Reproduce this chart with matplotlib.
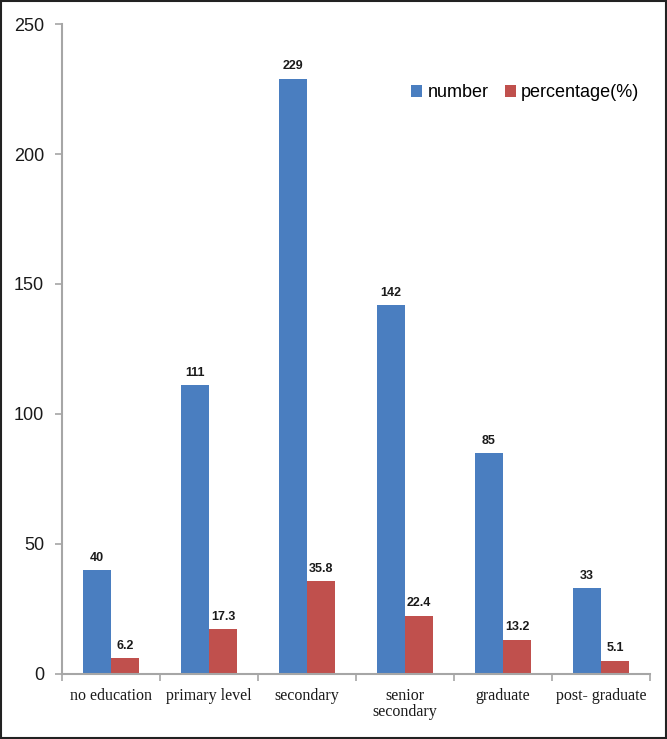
"""Education level bar chart."""

import matplotlib.pyplot as plt
import numpy as np
from matplotlib.patches import Rectangle

categories = ["no education", "primary level", "secondary", "senior\nsecondary",
              "graduate", "post- graduate"]
number = [40, 111, 229, 142, 85, 33]
percentage = [6.2, 17.3, 35.8, 22.4, 13.2, 5.1]
number_labels = ["40", "111", "229", "142", "85", "33"]
percentage_labels = ["6.2", "17.3", "35.8", "22.4", "13.2", "5.1"]

BLUE = "#4A7EC0"
RED = "#C0504D"
SPINE = "#A6A6A6"

fig = plt.figure(figsize=(6.67, 7.39), dpi=100)
ax = fig.add_axes([0.093, 0.088, 0.8815, 0.8795])

x = np.arange(len(categories))
w = 0.285
b1 = ax.bar(x - w / 2, number, w, color=BLUE, label="number")
b2 = ax.bar(x + w / 2, percentage, w, color=RED, label="percentage(%)")

for bars, labels in ((b1, number_labels), (b2, percentage_labels)):
    for rect, lab in zip(bars, labels):
        ax.annotate(lab, (rect.get_x() + rect.get_width() / 2, rect.get_height()),
                    xytext=(0, 4.5), textcoords="offset points",
                    ha="center", va="bottom", fontsize=9, fontweight="bold",
                    family="Liberation Sans", color="#1a1a1a")

ax.set_xlim(-0.5, len(categories) - 0.5)
ax.set_ylim(0, 250)
ax.set_yticks(np.arange(0, 251, 50))

# tick marks at category boundaries, labels at centres
ax.set_xticks(np.arange(-0.5, len(categories)), labels=[""] * (len(categories) + 1))
ax.set_xticks(x, labels=categories, minor=True)
ax.tick_params(axis="x", which="major", length=5, width=1.2, color=SPINE, direction="out")
ax.tick_params(axis="x", which="minor", length=0, pad=10, labelsize=11.5)
for t in ax.get_xticklabels(minor=True):
    t.set_family("Liberation Serif")
    t.set_linespacing(1.0)
    t.set_color("#1a1a1a")
ax.tick_params(axis="y", length=5, width=1.2, color=SPINE, pad=8, labelsize=13)
for t in ax.get_yticklabels():
    t.set_family("Liberation Sans")
    t.set_color("#1a1a1a")

for side in ("top", "right"):
    ax.spines[side].set_visible(False)
for side in ("left", "bottom"):
    ax.spines[side].set_color(SPINE)
    ax.spines[side].set_linewidth(1.5)

leg = ax.legend(loc="center right", bbox_to_anchor=(0.982, 0.894), ncol=2, frameon=False,
                borderpad=0, borderaxespad=0,
                handlelength=0.6, handleheight=0.6, handletextpad=0.3,
                columnspacing=0.9, prop={"family": "Liberation Sans", "size": 13})

fig.patches.append(Rectangle((0.002, 0.002), 0.996, 0.996, transform=fig.transFigure,
                             fill=False, edgecolor="#222222", linewidth=1.5))

fig.savefig("out.png", dpi=100)
plt.close(fig)
